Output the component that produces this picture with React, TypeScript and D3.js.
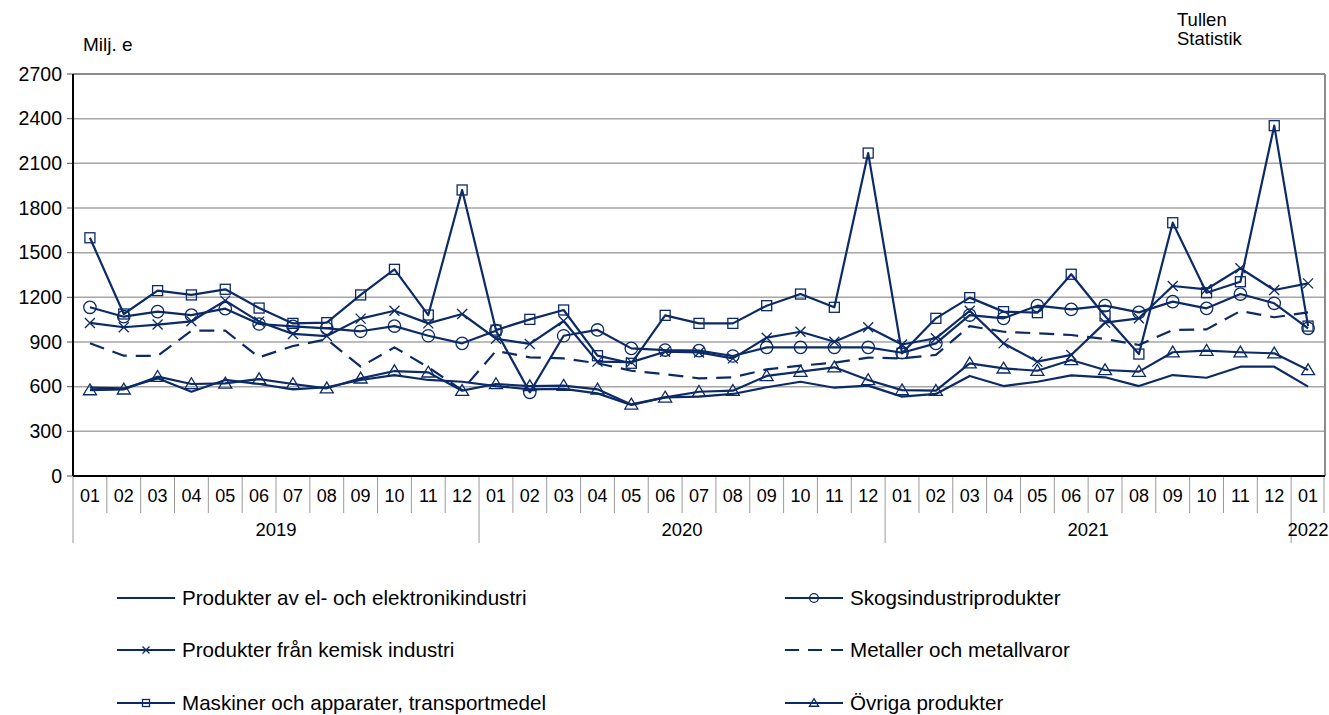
import React from "react";
import * as d3 from "d3";

const months = ["01","02","03","04","05","06","07","08","09","10","11","12","01","02","03","04","05","06","07","08","09","10","11","12","01","02","03","04","05","06","07","08","09","10","11","12","01"];
const years = [
  { label: "2019", start: 0, count: 12 },
  { label: "2020", start: 12, count: 12 },
  { label: "2021", start: 24, count: 12 },
  { label: "2022", start: 36, count: 1 },
];
const yTicks = [0, 300, 600, 900, 1200, 1500, 1800, 2100, 2400, 2700];

const elektronik = [593,588,656,566,645,618,582,596,645,678,645,633, 604,582,585,555,477,528,533,551,596,633,593,607, 533,551,672,604,633,676,663,604,678,660,734,734,600];
const skogs = [1133,1070,1104,1081,1124,1021,1005,992,972,1007,942,891, 976,562,942,981,857,846,842,806,864,864,864,864, 828,891,1081,1059,1144,1119,1144,1099,1171,1126,1222,1160,992];
const kemisk = [1028,999,1017,1039,1178,1037,954,940,1057,1110,1025,1088, 922,887,1041,768,765,835,830,790,929,969,902,999, 883,925,1110,891,768,813,1030,1059,1276,1254,1395,1249,1294];
const metaller = [891,808,806,976,976,797,873,918,734,864,730,577, 840,797,790,757,707,683,656,663,716,741,761,795, 790,813,1007,969,958,947,920,880,981,985,1108,1066,1099];
const maskiner = [1600,1088,1245,1216,1254,1128,1025,1030,1216,1388,1081,1921, 980,1052,1115,808,757,1079,1025,1025,1144,1222,1133,2169, 824,1059,1198,1104,1097,1355,1075,819,1701,1231,1305,2353,1007];
const ovriga = [577,582,667,618,622,651,618,589,656,705,696,573, 618,604,607,582,481,528,566,573,672,701,730,645, 577,573,757,723,707,779,712,701,831,842,831,824,712];

type Marker = "none" | "circle" | "x" | "square" | "triangle";
const series: { name: string; values: number[]; marker: Marker; dash?: string }[] = [
  { name: "Produkter av el- och elektronikindustri", values: elektronik, marker: "none" },
  { name: "Skogsindustriprodukter", values: skogs, marker: "circle" },
  { name: "Produkter från kemisk industri", values: kemisk, marker: "x" },
  { name: "Metaller och metallvaror", values: metaller, marker: "none", dash: "15 9" },
  { name: "Maskiner och apparater, transportmedel", values: maskiner, marker: "square" },
  { name: "Övriga produkter", values: ovriga, marker: "triangle" },
];

const COLOR = "#0c2a66";
const FONT = "'Liberation Sans', Arial, sans-serif";

function MarkerShape({ type, cx, cy, s }: { type: Marker; cx: number; cy: number; s: number }) {
  if (type === "circle") return <circle cx={cx} cy={cy} r={s * 0.62} fill="none" stroke={COLOR} strokeWidth={1.3} />;
  if (type === "square") return <rect x={cx - s / 2} y={cy - s / 2} width={s} height={s} fill="none" stroke={COLOR} strokeWidth={1.3} />;
  if (type === "x") {
    const h = s * 0.5;
    return (
      <path d={`M${cx - h},${cy - h}L${cx + h},${cy + h}M${cx - h},${cy + h}L${cx + h},${cy - h}`} stroke={COLOR} strokeWidth={1.3} fill="none" />
    );
  }
  if (type === "triangle") {
    const h = s * 0.62;
    return <path d={`M${cx},${cy - h}L${cx + h * 1.05},${cy + h * 0.75}L${cx - h * 1.05},${cy + h * 0.75}Z`} fill="none" stroke={COLOR} strokeWidth={1.3} />;
  }
  return null;
}

export default function App() {
  const left = 73, right = 1325, top = 74, bottom = 476;
  const x = d3.scaleBand<number>().domain(months.map((_, i) => i)).range([left, right]);
  const y = d3.scaleLinear().domain([0, 2700]).range([bottom, top]);
  const cx = (i: number) => (x(i) as number) + x.bandwidth() / 2;
  const line = d3.line<number>().x((_, i) => cx(i)).y((d) => y(d));

  const legendRows = [598, 650, 703];
  const legendCols = [117, 785];

  return (
    <svg width={1329} height={715} style={{ position: "absolute", left: 0, top: 0 }} fontFamily={FONT}>
      <rect width={1329} height={715} fill="#fff" />
      {/* gridlines */}
      {yTicks.filter((t) => t > 0).map((t) => (
        <line key={t} x1={left} x2={right} y1={y(t)} y2={y(t)} stroke={t === 2700 ? "#8c8c8c" : "#a6a6a6"} strokeWidth={t === 2700 ? 2 : 1.5} />
      ))}
      <line x1={right} x2={right} y1={top} y2={bottom} stroke="#8c8c8c" strokeWidth={2} />
      {/* y ticks */}
      {yTicks.map((t) => (
        <g key={t}>
          <line x1={left - 6} x2={left} y1={y(t)} y2={y(t)} stroke="#555" strokeWidth={1} />
          <text x={62} y={y(t)} dy="0.35em" textAnchor="end" fontSize={19.5} fill="#000">{t}</text>
        </g>
      ))}
      <text x={83} y={51} fontSize={19} fill="#000">Milj. e</text>
      <text x={1177} y={26} fontSize={18.5} fill="#000">Tullen</text>
      <text x={1177} y={44.5} fontSize={18.5} fill="#000">Statistik</text>
      {/* x category separators */}
      {months.map((m, i) => (
        <g key={i}>
          {i > 0 && !years.some((yr) => yr.start === i) && (
            <line x1={x(i)} x2={x(i)} y1={bottom} y2={513} stroke="#999" strokeWidth={1} />
          )}
          <text x={cx(i)} y={496} dy="0.35em" textAnchor="middle" fontSize={18} fill="#000">{m}</text>
        </g>
      ))}
      <line x1={right - 1} x2={right - 1} y1={bottom} y2={513} stroke="#999" strokeWidth={1} />
      {years.map((yr) => {
        const x0 = x(yr.start) as number;
        const x1 = (x(yr.start + yr.count - 1) as number) + x.bandwidth();
        return (
          <g key={yr.label}>
            <line x1={x0} x2={x0} y1={bottom} y2={543} stroke="#999" strokeWidth={1} />
            <text x={(x0 + x1) / 2} y={530} dy="0.35em" textAnchor="middle" fontSize={18.5} fill="#000">{yr.label}</text>
          </g>
        );
      })}
      {/* axes */}
      <line x1={left} x2={left} y1={top} y2={bottom} stroke="#000" strokeWidth={2} />
      <line x1={left} x2={right} y1={bottom} y2={bottom} stroke="#000" strokeWidth={2} />
      {/* series */}
      {series.map((s) => (
        <g key={s.name}>
          <path d={line(s.values) as string} fill="none" stroke={COLOR} strokeWidth={2.2} strokeDasharray={s.dash} strokeLinejoin="round" />
          {s.marker !== "none" && s.values.map((v, i) => <MarkerShape key={i} type={s.marker} cx={cx(i)} cy={y(v)} s={10} />)}
        </g>
      ))}
      {/* legend */}
      {series.map((s, i) => {
        const col = i % 2;
        const row = Math.floor(i / 2);
        const lx = legendCols[col];
        const ly = legendRows[row];
        return (
          <g key={s.name}>
            <line x1={lx} x2={lx + 58} y1={ly} y2={ly} stroke={COLOR} strokeWidth={2.2} strokeDasharray={s.dash ? "14 9" : undefined} />
            {s.marker !== "none" && <MarkerShape type={s.marker} cx={lx + 29} cy={ly} s={7} />}
            <text x={lx + 65} y={ly} dy="0.35em" fontSize={20.6} fill="#000">{s.name}</text>
          </g>
        );
      })}
    </svg>
  );
}
